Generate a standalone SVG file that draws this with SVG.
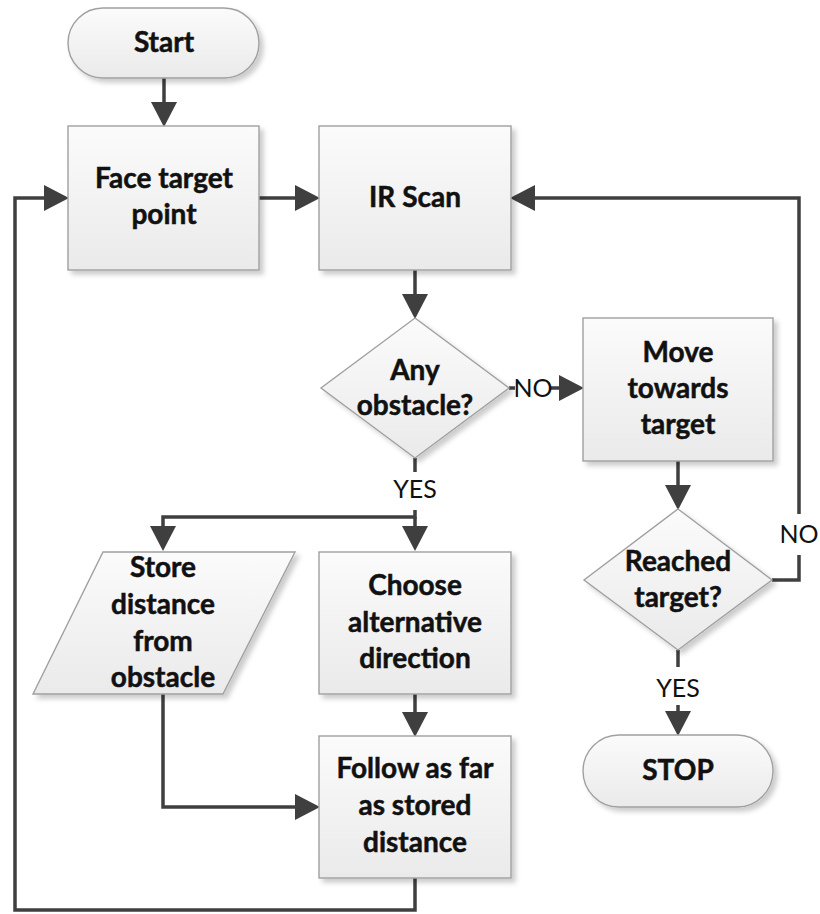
<svg xmlns="http://www.w3.org/2000/svg" width="820" height="914" viewBox="0 0 820 914">
<defs>
<linearGradient id="g" x1="0" y1="0" x2="0" y2="1">
<stop offset="0" stop-color="#fbfbfb"/>
<stop offset="1" stop-color="#eaeaea"/>
</linearGradient>
<filter id="sh" x="-10%" y="-10%" width="125%" height="125%">
<feDropShadow dx="4" dy="4" stdDeviation="2.5" flood-color="#000" flood-opacity="0.2"/>
</filter>
<marker id="arr" markerWidth="25" markerHeight="26" refX="14" refY="13" orient="auto" markerUnits="userSpaceOnUse">
<path d="M0,0 L25,13 L0,26 z" fill="#3f3f3f"/>
</marker>
</defs>
<style>
.shape{fill:url(#g);stroke:#a0a0a0;stroke-width:1.4;filter:url(#sh)}
.t{font-family:Lato,"Liberation Sans",sans-serif;font-weight:bold;font-size:28px;fill:#111;stroke:#111;stroke-width:0.5;text-anchor:middle}
.lbl{font-family:Lato,"Liberation Sans",sans-serif;font-size:25px;fill:#111;text-anchor:middle}
.c{fill:none;stroke:#3f3f3f;stroke-width:3.5}
.ca{fill:none;stroke:#3f3f3f;stroke-width:3.5;marker-end:url(#arr)}
</style>
<rect width="820" height="914" fill="#fff"/>

<g id="connectors">
<path class="ca" d="M164,78 V116"/>
<path class="ca" d="M259,198 H309"/>
<path class="ca" d="M415,270 V308"/>
<path class="c" d="M509,388 H515"/>
<path class="ca" d="M551,388 H573"/>
<path class="ca" d="M678,461 V499"/>
<path class="c" d="M772,580 H799 V555"/>
<path class="ca" d="M799,514 V198 H521"/>
<path class="c" d="M415,458 V472"/>
<path class="ca" d="M415,510 V517 H163 V540"/>
<path class="ca" d="M415,517 V540"/>
<path class="c" d="M678,650 V667"/>
<path class="ca" d="M678,705 V725"/>
<path class="ca" d="M415,694 V726"/>
<path class="ca" d="M163,694 V807 H309"/>
<path class="ca" d="M415,878 V910 H15 V198 H58"/>
<text class="lbl" x="533" y="397">NO</text>
<text class="lbl" x="799" y="543">NO</text>
<text class="lbl" x="415" y="498">YES</text>
<text class="lbl" x="678" y="697">YES</text>
</g>

<g id="start">
<rect class="shape" x="68" y="8" width="191" height="70" rx="35"/>
<text class="t" x="164" y="52">Start</text>
</g>
<g id="face">
<rect class="shape" x="68" y="126" width="191" height="144"/>
<text class="t" x="164" y="188">Face target</text>
<text class="t" x="164" y="224">point</text>
</g>
<g id="irscan">
<rect class="shape" x="319" y="126" width="192" height="144"/>
<text class="t" x="415" y="207">IR Scan</text>
</g>
<g id="anyobstacle">
<polygon class="shape" points="415,318 509,388 415,458 321,388"/>
<text class="t" x="415" y="380">Any</text>
<text class="t" x="415" y="415">obstacle?</text>
</g>
<g id="move">
<rect class="shape" x="583" y="318" width="190" height="143"/>
<text class="t" x="678" y="362">Move</text>
<text class="t" x="678" y="398">towards</text>
<text class="t" x="678" y="434">target</text>
</g>
<g id="reached">
<polygon class="shape" points="678,509 772,580 678,650 584,580"/>
<text class="t" x="678" y="571">Reached</text>
<text class="t" x="678" y="607">target?</text>
</g>
<g id="stop">
<rect class="shape" x="583" y="735" width="190" height="72" rx="36"/>
<text class="t" x="678" y="780">STOP</text>
</g>
<g id="store">
<polygon class="shape" points="103,552 295,552 223,694 33,694"/>
<text class="t" x="163" y="577">Store</text>
<text class="t" x="163" y="614">distance</text>
<text class="t" x="163" y="651">from</text>
<text class="t" x="163" y="687">obstacle</text>
</g>
<g id="choose">
<rect class="shape" x="319" y="552" width="192" height="142"/>
<text class="t" x="415" y="595">Choose</text>
<text class="t" x="415" y="632">alternative</text>
<text class="t" x="415" y="668">direction</text>
</g>
<g id="follow">
<rect class="shape" x="319" y="736" width="192" height="142"/>
<text class="t" x="415" y="778">Follow as far</text>
<text class="t" x="415" y="815">as stored</text>
<text class="t" x="415" y="852">distance</text>
</g>
</svg>
